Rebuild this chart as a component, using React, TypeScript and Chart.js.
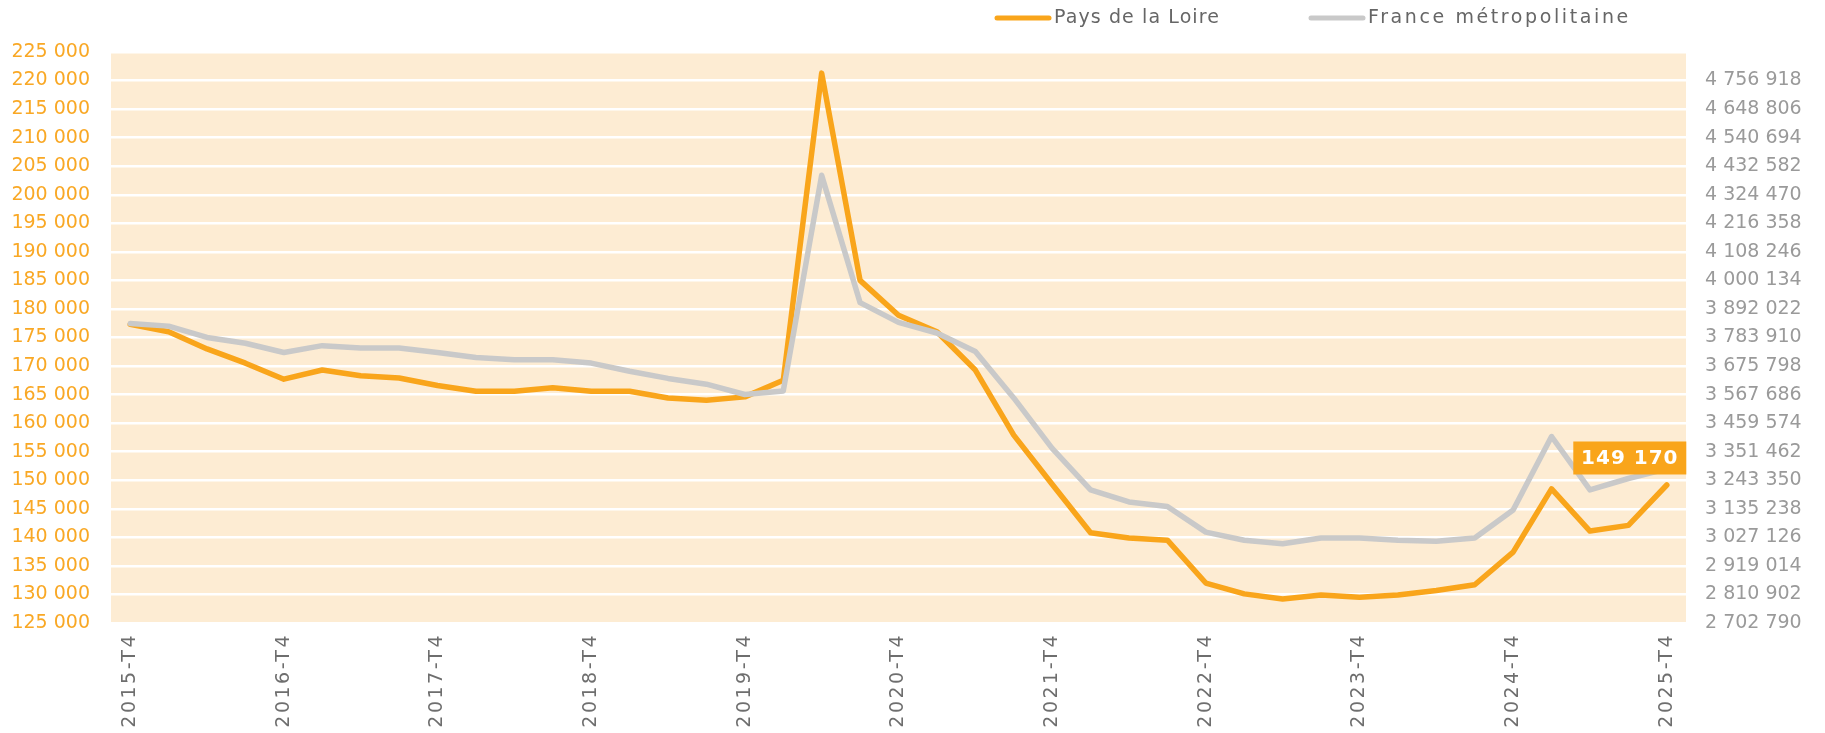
import React, { useEffect, useRef } from "react";
import { Chart, registerables } from "chart.js";

Chart.register(...registerables);

const quarters = [
  "2015-T4",
  "2016-T1", "2016-T2", "2016-T3", "2016-T4",
  "2017-T1", "2017-T2", "2017-T3", "2017-T4",
  "2018-T1", "2018-T2", "2018-T3", "2018-T4",
  "2019-T1", "2019-T2", "2019-T3", "2019-T4",
  "2020-T1", "2020-T2", "2020-T3", "2020-T4",
  "2021-T1", "2021-T2", "2021-T3", "2021-T4",
  "2022-T1", "2022-T2", "2022-T3", "2022-T4",
  "2023-T1", "2023-T2", "2023-T3", "2023-T4",
  "2024-T1", "2024-T2", "2024-T3", "2024-T4",
  "2025-T1", "2025-T2", "2025-T3", "2025-T4",
];

const paysDeLaLoire = [
  177300, 176000, 173000, 170500, 167700, 169300, 168300, 167900, 166600, 165600,
  165600, 166200, 165600, 165600, 164400, 164000, 164600, 167500, 221300, 185000,
  178900, 176000, 169300, 157900, 149300, 140800, 139900, 139500, 132000, 130100,
  129200, 129900, 129500, 129900, 130700, 131700, 137400, 148500, 141100, 142100,
  149170,
];

const franceMetro = [
  3837000, 3827000, 3784000, 3762000, 3727000, 3753000, 3744000, 3744000, 3727000, 3708000,
  3700000, 3700000, 3687000, 3656000, 3629000, 3607000, 3568000, 3581000, 4398000, 3916000,
  3841000, 3801000, 3731000, 3555000, 3364000, 3207000, 3161000, 3144000, 3047000, 3016000,
  3003000, 3025000, 3025000, 3016000, 3012000, 3025000, 3131000, 3409000, 3207000, 3250000,
  3287000,
];

const leftMin = 125000;
const leftMax = 225000;
const leftStep = 5000;
const rightTicks = [
  2702790, 2810902, 2919014, 3027126, 3135238, 3243350, 3351462, 3459574, 3567686, 3675798,
  3783910, 3892022, 4000134, 4108246, 4216358, 4324470, 4432582, 4540694, 4648806, 4756918,
  4865030,
];

const seriesNames = ["Pays de la Loire", "France métropolitaine"];
const lastLabel = "149 170";

const ORANGE = "#F9A51B";
const GREY = "#C9C9C9";
const BG = "#FDECD3";

const fmt = (v: number) =>
  Math.round(v).toString().replace(/\B(?=(\d{3})+(?!\d))/g, " ");

function withSpacing(scale: any, spacing: string) {
  const orig = scale.drawLabels;
  if (!orig || scale.__patched) return;
  scale.__patched = true;
  scale.drawLabels = function (area: any) {
    const ctx = this.ctx;
    ctx.save();
    ctx.letterSpacing = spacing;
    orig.call(this, area);
    ctx.restore();
  };
}

export default function App() {
  const ref = useRef<HTMLCanvasElement | null>(null);

  useEffect(() => {
    document.body.style.margin = "0";
    const canvas = ref.current;
    if (!canvas) return;

    const bgPlugin = {
      id: "bgPlugin",
      beforeDraw(chart: any) {
        const { ctx, chartArea } = chart;
        ctx.save();
        ctx.fillStyle = BG;
        ctx.fillRect(chartArea.left, chartArea.top, chartArea.right - chartArea.left, chartArea.bottom - chartArea.top);
        ctx.restore();
      },
    };

    const legendPlugin = {
      id: "customLegend",
      afterDraw(chart: any) {
        const { ctx } = chart;
        ctx.save();
        ctx.lineCap = "round";
        ctx.lineWidth = 5;
        ctx.font = "19px 'DejaVu Sans'";
        ctx.textBaseline = "middle";
        ctx.fillStyle = "#666666";
        const items = [
          { color: ORANGE, x: 997, text: seriesNames[0], sp: "1.1px" },
          { color: GREY, x: 1311, text: seriesNames[1], sp: "2.6px" },
        ];
        items.forEach((it) => {
          ctx.strokeStyle = it.color;
          ctx.beginPath();
          ctx.moveTo(it.x, 18);
          ctx.lineTo(it.x + 52, 18);
          ctx.stroke();
          ctx.letterSpacing = it.sp;
          ctx.fillText(it.text, it.x + 57, 18);
          ctx.letterSpacing = "0px";
        });
        ctx.restore();
      },
    };

    const labelPlugin = {
      id: "lastLabel",
      afterDatasetsDraw(chart: any) {
        const meta = chart.getDatasetMeta(0);
        const pt = meta.data[meta.data.length - 1];
        if (!pt) return;
        const { ctx } = chart;
        const cx = pt.x - 37;
        const cy = pt.y - 27;
        const w = 113;
        const h = 33;
        ctx.save();
        ctx.fillStyle = ORANGE;
        ctx.fillRect(cx - w / 2, cy - h / 2, w, h);
        ctx.fillStyle = "#FFFFFF";
        ctx.font = "bold 20px 'DejaVu Sans'";
        (ctx as any).letterSpacing = "1px";
        ctx.textAlign = "center";
        ctx.textBaseline = "middle";
        ctx.fillText(lastLabel, cx, cy + 1);
        ctx.restore();
      },
    };

    const chart = new Chart(canvas, {
      type: "line",
      data: {
        labels: quarters,
        datasets: [
          {
            label: seriesNames[0],
            data: paysDeLaLoire,
            yAxisID: "y",
            borderColor: ORANGE,
            backgroundColor: ORANGE,
            borderWidth: 5.5,
            pointRadius: 0,
            tension: 0,
            borderJoinStyle: "round",
            borderCapStyle: "round",
            order: 1,
          },
          {
            label: seriesNames[1],
            data: franceMetro,
            yAxisID: "y2",
            borderColor: GREY,
            backgroundColor: GREY,
            borderWidth: 5.5,
            pointRadius: 0,
            tension: 0,
            borderJoinStyle: "round",
            borderCapStyle: "round",
            order: 0,
          },
        ],
      },
      options: {
        animation: false,
        responsive: false,
        maintainAspectRatio: false,
        layout: { padding: { top: 52, left: 0, right: 0, bottom: 0 } },
        plugins: {
          legend: { display: false },
          tooltip: { enabled: false },
        },
        scales: {
          x: {
            offset: true,
            grid: { display: false, drawTicks: false },
            border: { display: false },
            ticks: {
              autoSkip: false,
              maxRotation: 90,
              minRotation: 90,
              padding: 10,
              color: "#6E6E6E",
              font: { family: "'DejaVu Sans'", size: 19 },
              callback: (_v: any, i: number) => (i % 4 === 0 ? quarters[i] : ""),
            },
            afterFit: (s: any) => {
              s.height = 110;
            },
          },
          y: {
            position: "left",
            min: leftMin,
            max: leftMax,
            grid: { color: "#FFFFFF", lineWidth: 2.5, drawTicks: false },
            border: { display: false },
            ticks: {
              stepSize: leftStep,
              padding: 21,
              color: "#F9A825",
              font: { family: "'DejaVu Sans'", size: 19 },
              callback: (v: any) => fmt(Number(v)),
            },
            afterFit: (s: any) => {
              s.width = 111;
            },
          },
          y2: {
            position: "right",
            min: rightTicks[0],
            max: rightTicks[rightTicks.length - 1],
            grid: { display: false, drawTicks: false },
            border: { display: false },
            afterBuildTicks: (s: any) => {
              s.ticks = rightTicks.map((v) => ({ value: v }));
            },
            ticks: {
              padding: 19,
              color: "#9A9A9A",
              font: { family: "'DejaVu Sans'", size: 19 },
              callback: (v: any, i: number) => (i === rightTicks.length - 1 ? "" : fmt(Number(v))),
            },
            afterFit: (s: any) => {
              s.width = 139;
            },
          },
        },
      },
      plugins: [bgPlugin, labelPlugin, legendPlugin],
    });

    withSpacing(chart.scales.x, "2.5px");
    chart.draw();

    return () => chart.destroy();
  }, []);

  return <canvas ref={ref} width={1825} height={733} style={{ display: "block" }} />;
}
